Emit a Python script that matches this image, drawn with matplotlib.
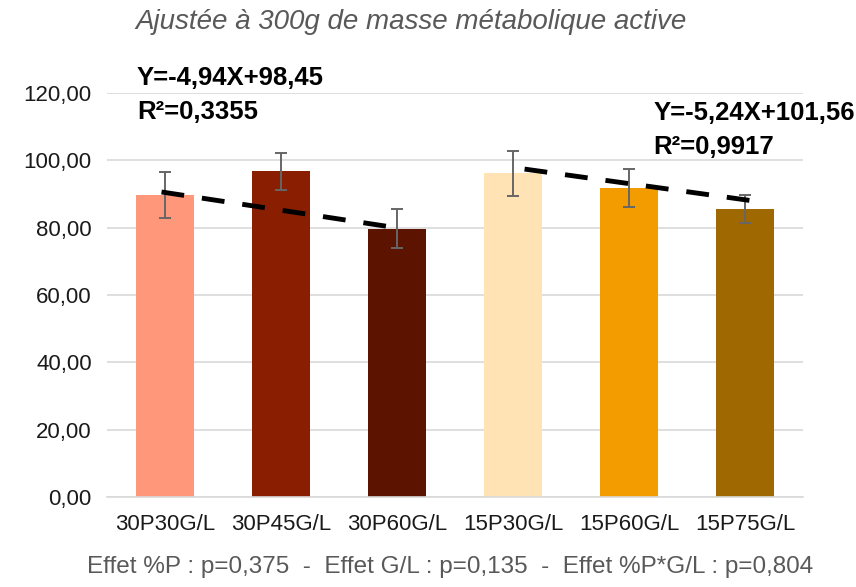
import matplotlib.pyplot as plt

categories = ["30P30G/L", "30P45G/L", "30P60G/L", "15P30G/L", "15P60G/L", "15P75G/L"]
values = [89.7, 96.7, 79.7, 96.1, 91.7, 85.6]
errors = [6.9, 5.4, 5.8, 6.8, 5.7, 4.1]
colors = ["#FF977A", "#891E00", "#5C1400", "#FFE3B5", "#F39C00", "#A06800"]

# trend lines as drawn on the chart (x in category positions)
trend1_x = [-0.03, 1.97]
trend1_y = [90.6, 80.1]
trend2_x = [3.1, 5.08]
trend2_y = [97.4, 87.9]

eq1 = ["Y=-4,94X+98,45", "R²=0,3355"]
eq2 = ["Y=-5,24X+101,56", "R²=0,9917"]

subtitle = "Ajustée à 300g de masse métabolique active"
footer = "Effet %P : p=0,375  -  Effet G/L : p=0,135  -  Effet %P*G/L : p=0,804"

plt.rcParams["font.family"] = ["Liberation Sans", "DejaVu Sans"]

fig = plt.figure(figsize=(8.56, 5.87), dpi=100)
ax = fig.add_axes([0.125, 0.1533, 0.813, 0.6883])

x = range(len(categories))
ax.bar(x, values, width=0.5, color=colors, zorder=2)
ax.errorbar(x, values, yerr=errors, fmt="none", ecolor="#666666",
            elinewidth=1.4, capsize=4.5, capthick=1.4, zorder=3)

for tx, ty in [(trend1_x, trend1_y), (trend2_x, trend2_y)]:
    ax.plot(tx, ty, color="black", lw=3.5, linestyle=(0, (4.7, 3.7)),
            solid_capstyle="butt", dash_capstyle="butt", zorder=4)

ax.set_xlim(-0.5, 5.5)
ax.set_ylim(0, 120)
ax.set_yticks(range(0, 121, 20))
ax.set_yticklabels([f"{v},00" for v in range(0, 121, 20)], fontsize=16)
ax.set_xticks(list(x))
ax.set_xticklabels(categories, fontsize=16)
ax.tick_params(axis="both", length=0, colors="#1a1a1a")
ax.tick_params(axis="x", pad=12)
ax.tick_params(axis="y", pad=11)
ax.yaxis.grid(True, color="#d9d9d9", lw=1.2, zorder=0)
ax.set_axisbelow(True)
for s in ["top", "right", "left"]:
    ax.spines[s].set_visible(False)
ax.spines["bottom"].set_color("#d9d9d9")
ax.spines["bottom"].set_linewidth(1.2)

fig.text(137 / 856, 1 - 78 / 587, eq1[0], fontsize=18.5, fontweight="bold",
         va="center", ha="left")
fig.text(137 / 856, 1 - 112 / 587, eq1[1], fontsize=18.5, fontweight="bold",
         va="center", ha="left")
fig.text(855 / 856, 1 - 113 / 587, eq2[0], fontsize=18.5, fontweight="bold",
         va="center", ha="right")
fig.text(653 / 856, 1 - 147 / 587, eq2[1], fontsize=18.5, fontweight="bold",
         va="center", ha="left")

fig.text(411 / 856, 1 - 22 / 587, subtitle, fontsize=20, style="italic",
         color="#595959", ha="center", va="center")
fig.text(450 / 856, 1 - 567 / 587, footer, fontsize=17.5, color="#595959",
         ha="center", va="center")

fig.savefig("out.png", dpi=100)
